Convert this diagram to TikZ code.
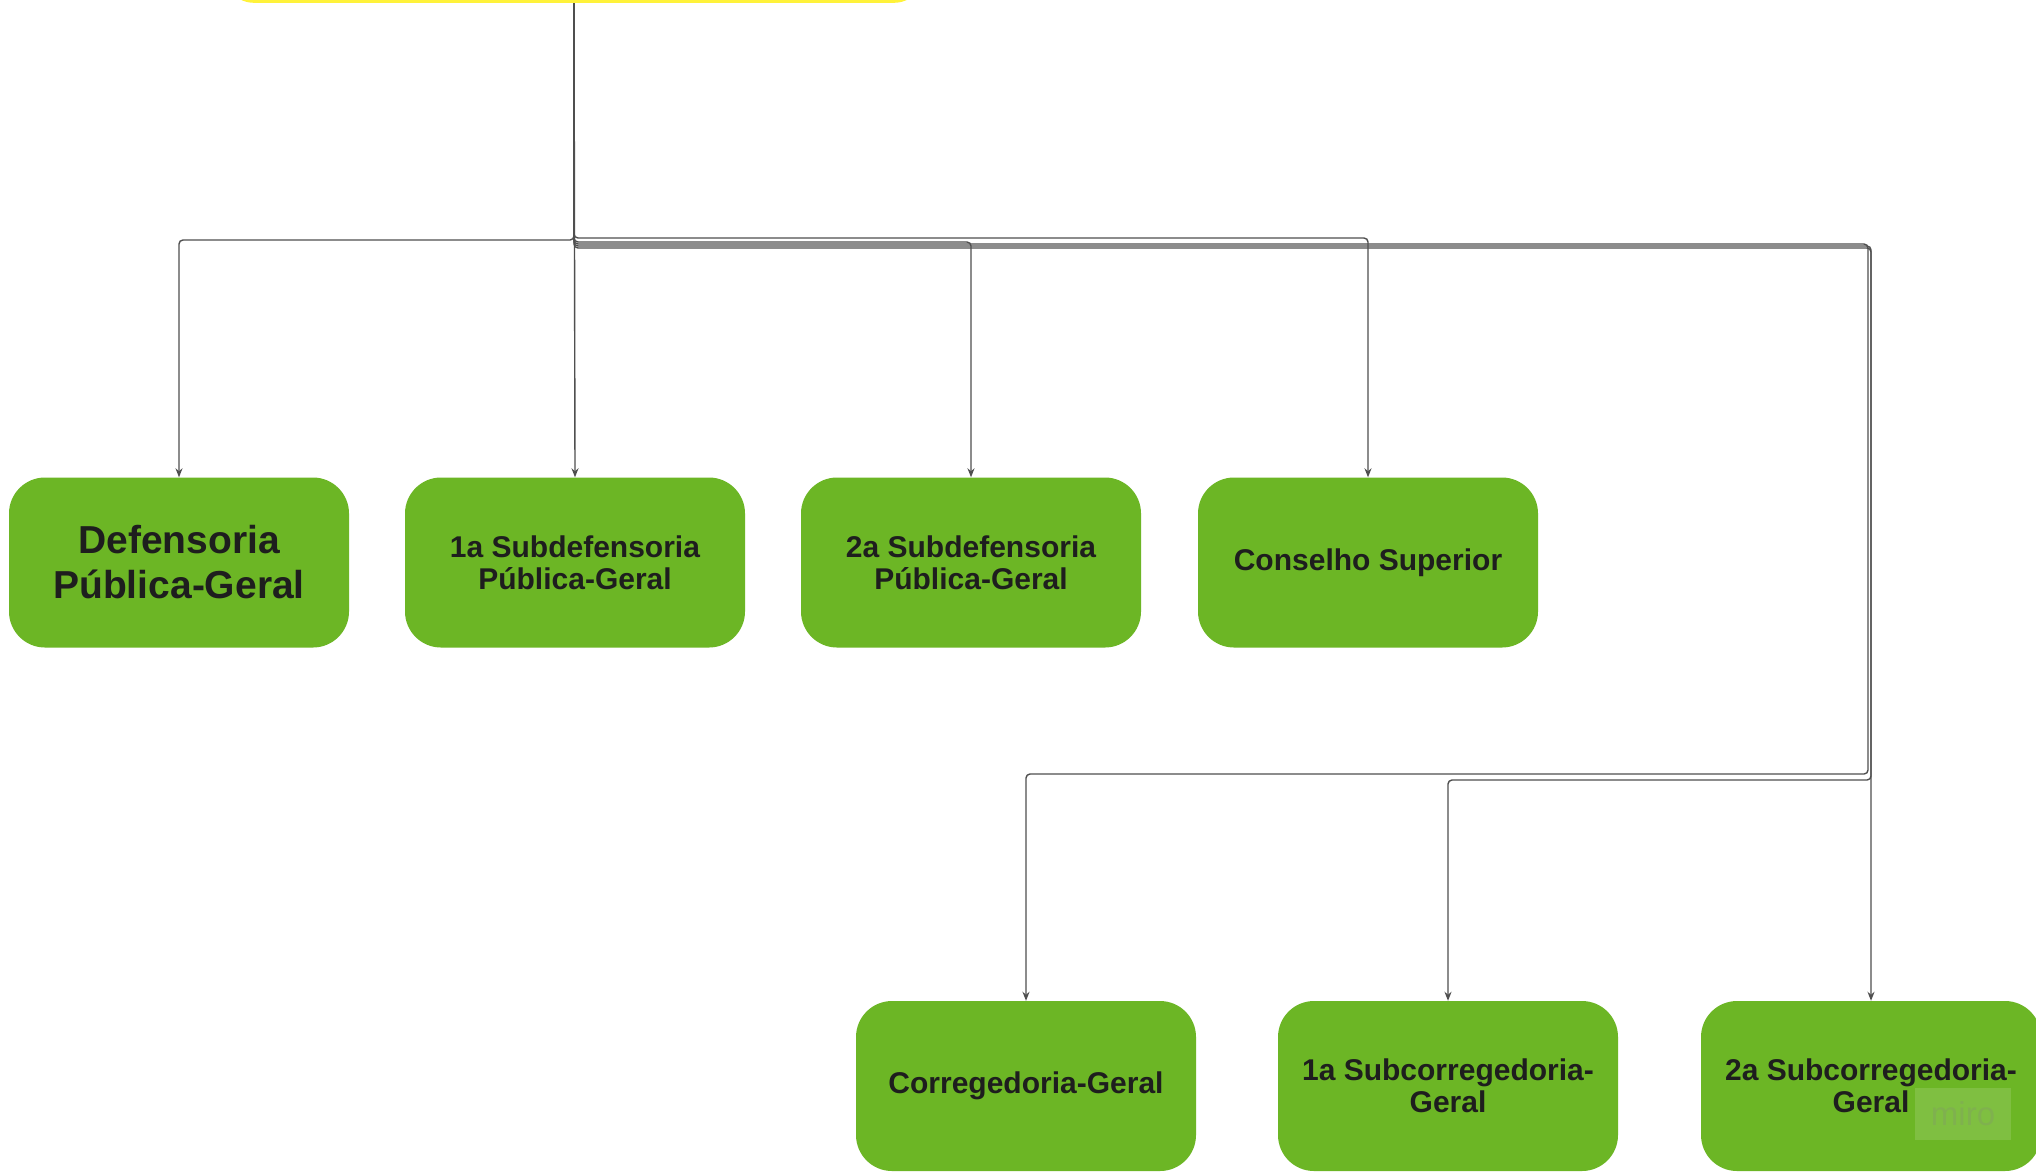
\documentclass[tikz,border=0pt]{standalone}
\usepackage{fontspec}
\setmainfont{Liberation Sans}
\usetikzlibrary{arrows.meta}
\definecolor{boxgreen}{HTML}{6CB625}
\definecolor{rootyellow}{HTML}{FFF23A}
\definecolor{linegray}{HTML}{4F4F4F}
\definecolor{txt}{HTML}{1E1E1E}
\tikzset{
  orgbox/.style={rectangle, rounded corners=36pt, fill=boxgreen, draw=none,
    minimum width=340pt, minimum height=170pt, inner sep=0pt, align=center,
    text=txt, font=\fontsize{30}{32}\selectfont\bfseries},
  conn/.style={draw=linegray, line width=1.4pt, rounded corners=4pt,
    -{Stealth[length=9pt,width=7pt]}},
}
\begin{document}
\begin{tikzpicture}[x=1pt,y=-1pt]
\useasboundingbox (0,0) rectangle (2036,1171);
\fill[white] (0,0) rectangle (2036,1171);
% root (mostly outside the picture)
\node[rectangle, rounded corners=30pt, fill=rootyellow, minimum width=700pt,
  minimum height=120pt, anchor=south] (root) at (574,3) {};
% first row
\node[orgbox, font=\fontsize{39}{45}\selectfont\bfseries] (dpg) at (179,562.5) {Defensoria\\Pública-Geral};
\node[orgbox] (s1) at (575,562.5) {1a Subdefensoria\\Pública-Geral};
\node[orgbox] (s2) at (971,562.5) {2a Subdefensoria\\Pública-Geral};
\node[orgbox] (cs) at (1368,562.5) {Conselho Superior};
% second row
\node[orgbox] (cg) at (1026,1086) {Corregedoria-Geral};
\node[orgbox] (sc1) at (1448,1086) {1a Subcorregedoria-\\Geral};
\node[orgbox] (sc2) at (1871,1086) {2a Subcorregedoria-\\Geral};
% watermark
\node[rectangle, fill=white, fill opacity=0.13, minimum width=96pt, minimum height=52pt,
  inner sep=0pt, text opacity=0.22, text=gray, font=\fontsize{33}{33}\selectfont] (wm) at (1963,1114) {miro};
% connectors
\draw[conn] (root.south) |- (179,240) -- (dpg.north);
\draw[conn] (root.south) -- (s1.north);
\draw[conn] (root.south) |- (971,242) -- (s2.north);
\draw[conn] (root.south) |- (1368,238) -- (cs.north);
\draw[conn] (root.south) |- (1868,244) |- (1026,774) -- (cg.north);
\draw[conn] (root.south) |- (1871,248) |- (1448,780) -- (sc1.north);
\draw[conn] (root.south) |- (1871,246) -- (sc2.north);
\end{tikzpicture}
\end{document}
